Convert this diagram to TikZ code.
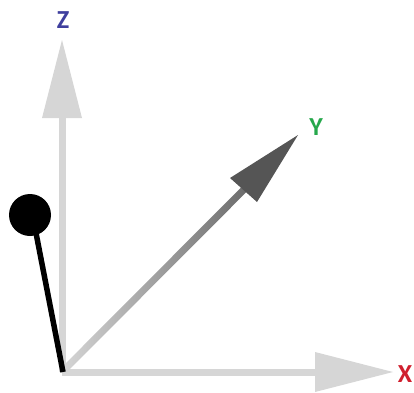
\documentclass[tikz,border=0pt]{standalone}
\usepackage{fontspec}
\setmainfont{Carlito}
\definecolor{axgray}{HTML}{D6D6D6}
\definecolor{ydark}{HTML}{555555}
\definecolor{zblue}{HTML}{3F3F9E}
\definecolor{ygreen}{HTML}{26A84C}
\definecolor{xred}{HTML}{D0202E}
\tikzset{
  lbl/.style={font=\bfseries\fontsize{26}{26}\selectfont, inner sep=0pt},
  axshaft/.style={line width=7pt, axgray},
}
\begin{document}
\begin{tikzpicture}[x=1pt,y=1pt]
\useasboundingbox (0,0) rectangle (414,392);
\coordinate (O) at (62,20);
\coordinate (Zb) at (62,274);
\coordinate (Xb) at (315,20);
% Z axis
\draw[axshaft] (O) -- (Zb);
\fill[axgray] (42,274) -- (82,274) -- (62,352) -- cycle;
% X axis
\draw[axshaft] (O) -- (Xb);
\fill[axgray] (315,40) -- (315,0) -- (393,20) -- cycle;
% Y axis shaft with gradient
\begin{scope}[shift={(64,22)}, rotate=45.08]
  \shade[left color=axgray, right color=gray!85!black] (0,-3.5) rectangle (255,3.5);
\end{scope}
\fill[ydark] (230,214) -- (257,190) -- (298,257) -- cycle;
% labels
\node[lbl, text=zblue] (zl) at (63,372) {Z};
\node[lbl, text=ygreen] (yl) at (316,265) {Y};
\node[lbl, text=xred] (xl) at (405,18) {X};
% pendulum
\node[circle, fill=black, minimum size=42pt, inner sep=0pt] (ball) at (30,177) {};
\coordinate (piv) at (63,20);
\draw[line width=5.5pt] (ball.center) ++(6,-18) -- (piv);
\end{tikzpicture}
\end{document}
